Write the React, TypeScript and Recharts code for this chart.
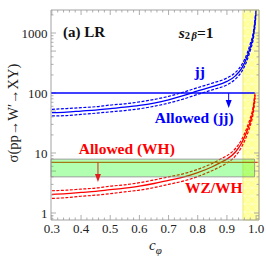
import React from 'react';
import { ComposedChart, Line, XAxis, YAxis, ReferenceArea, ReferenceLine, ReferenceDot } from 'recharts';

// WZ/jj cross-section curves (c_phi vs sigma)
const jjC = [0.30, 0.35, 0.40, 0.45, 0.50, 0.55, 0.60, 0.65, 0.70, 0.75, 0.80, 0.85, 0.90, 0.93, 0.95, 0.97, 0.98, 0.99, 0.995, 1.0];
const jjCentral = [47, 48, 50, 52, 55, 58, 62, 68, 77, 90, 108, 128, 156, 195, 255, 410, 580, 880, 1300, 2400];
const jjUpper = [53.5, 55, 57, 59, 63, 66, 71, 78, 88, 103, 123, 146, 178, 222, 291, 467, 661, 1000, 1480, 2700];
const jjLower = [41.5, 42, 44, 46, 48.5, 51, 54.5, 60, 68, 79, 95, 113, 137, 172, 224, 360, 510, 775, 1140, 2100];

const whC = [0.30, 0.35, 0.40, 0.45, 0.50, 0.55, 0.60, 0.65, 0.70, 0.75, 0.80, 0.85, 0.88, 0.90, 0.93, 0.95, 0.97, 0.98, 0.99, 0.995, 0.997];
const whCentral = [2.05, 2.1, 2.2, 2.3, 2.45, 2.6, 2.8, 3.1, 3.5, 3.95, 4.7, 5.9, 7.0, 7.9, 10.5, 14.5, 24, 33, 52, 80, 92];
const whUpper = [2.35, 2.4, 2.5, 2.6, 2.8, 2.95, 3.2, 3.55, 4.0, 4.5, 5.35, 6.7, 8.0, 9.0, 12, 16.5, 27.5, 38, 59, 89, 100];
const whLower = [1.75, 1.8, 1.9, 1.98, 2.1, 2.25, 2.4, 2.65, 3.0, 3.4, 4.05, 5.1, 6.0, 6.8, 9.0, 12.5, 20.5, 28.5, 45, 68, 82];

// limits
const jjLimit = 100;
const whLimit = 7.0;
const whBandLow = 4.0;
const whBandHigh = 7.9;
const yellowStart = 0.955;
const jjArrow = { c: 0.906, tip: 56 };
const whArrow = { c: 0.458, tip: 3.3 };

const xTicks = [0.3, 0.4, 0.5, 0.6, 0.7, 0.8, 0.9, 1.0];
const yTicks = [1, 5, 10, 50, 100, 500, 1000];

const X_MIN = 0.297, X_MAX = 1.01, Y_MIN = 0.764, Y_MAX = 2418;
const PX_X = 292; // px per unit c
const PX_DEC = 60; // px per decade

const jjData = jjC.map((c, i) => ({ c, mid: jjCentral[i], up: jjUpper[i], lo: jjLower[i] }));
const whData = whC.map((c, i) => ({ c, mid: whCentral[i], up: whUpper[i], lo: whLower[i] }));

const FONT = "'Liberation Serif', 'Times New Roman', serif";
const FRAME = '#999999';
const BLUE = '#0000ff';
const RED = '#ff0000';

const yMinorVals: number[] = [];
[0.1, 1, 10, 100, 1000].forEach(d => {
  for (let k = 1; k <= 9; k++) {
    const v = +(k * d).toPrecision(3);
    if (v > Y_MIN && v < Y_MAX) yMinorVals.push(v);
  }
});
const xMinorVals: number[] = [];
for (let i = 0; i <= 35; i++) xMinorVals.push(+(0.3 + 0.02 * i).toFixed(2));

const isMajorY = (v: number) => yTicks.includes(v);
const isMajorX = (v: number) => Math.abs(v * 10 - Math.round(v * 10)) < 1e-6;

const textShape = (content: React.ReactNode, color: string, size = 15.5, anchor: 'middle' | 'start' = 'middle') => (p: any) => (
  <text x={p.cx} y={p.cy} textAnchor={anchor} dominantBaseline="central" fill={color}
    style={{ fontFamily: FONT }} fontWeight="bold" fontSize={size}>{content}</text>
);

const arrowHead = (color: string) => (p: any) => (
  <polygon points={`${p.cx - 3},${p.cy - 8} ${p.cx + 3},${p.cy - 8} ${p.cx},${p.cy}`} fill={color} />
);

const HatchDefs = () => (
  <defs>
    <pattern id="yhatch" patternUnits="userSpaceOnUse" width="8" height="8">
      <rect x="0" y="0" width="8" height="8" fill="#ffff94" />
      <path d="M0,0 L8,8 M8,0 L0,8 M0,4 L8,4" stroke="#ffffd8" strokeWidth="0.7" fill="none" />
    </pattern>
  </defs>
);

const YLabel = () => (
  <text x={13} y={113} transform="rotate(-90 13 113)" textAnchor="middle" dominantBaseline="central"
    style={{ fontFamily: FONT }} fontSize={14.5} fill="#222">σ(pp→W′→XY)</text>
);
const XLabel = () => (
  <text x={149} y={250} style={{ fontFamily: FONT }} fontSize={15} fill="#222">
    <tspan fontStyle="italic">c</tspan>
    <tspan fontSize={11} dy={4} fontStyle="italic">φ</tspan>
  </text>
);

export default function App() {
  const tickEls: React.ReactNode[] = [];
  yMinorVals.forEach((v, i) => {
    const len = (isMajorY(v) ? 5 : 2.5) / PX_X;
    tickEls.push(<ReferenceLine key={`yl${i}`} segment={[{ x: X_MIN, y: v }, { x: X_MIN + len, y: v }]} stroke={FRAME} strokeWidth={0.8} />);
    tickEls.push(<ReferenceLine key={`yr${i}`} segment={[{ x: X_MAX - len, y: v }, { x: X_MAX, y: v }]} stroke={FRAME} strokeWidth={0.8} />);
  });
  xMinorVals.forEach((v, i) => {
    const f = Math.pow(10, (isMajorX(v) ? 5 : 2.5) / PX_DEC);
    tickEls.push(<ReferenceLine key={`xb${i}`} segment={[{ x: v, y: Y_MIN }, { x: v, y: Y_MIN * f }]} stroke={FRAME} strokeWidth={0.8} />);
    tickEls.push(<ReferenceLine key={`xt${i}`} segment={[{ x: v, y: Y_MAX / f }, { x: v, y: Y_MAX }]} stroke={FRAME} strokeWidth={0.8} />);
  });

  const tickStyle = { fontSize: 13, fill: '#222', style: { fontFamily: FONT } };

  return (
    <div style={{ position: 'absolute', left: 0, top: 0, background: '#fff', fontFamily: FONT }}>
      <ComposedChart width={266} height={266} margin={{ top: 10, right: 7, bottom: 0, left: 0 }} style={{ fontFamily: FONT }}>
        <XAxis dataKey="c" type="number" domain={[X_MIN, X_MAX]} allowDataOverflow ticks={xTicks}
          height={46} tickSize={0} tickMargin={4} axisLine={false} tickLine={false}
          tickFormatter={(v: number) => v.toFixed(1)}
          tick={tickStyle} label={{ content: XLabel }} />
        <YAxis type="number" scale="log" domain={[Y_MIN, Y_MAX]} allowDataOverflow ticks={yTicks}
          width={51} tickSize={0} tickMargin={3.5} axisLine={false} tickLine={false}
          tick={tickStyle} label={{ content: YLabel }} />

        <ReferenceDot x={0.5} y={10} r={0} shape={() => <HatchDefs />} zIndex={-100} />
        <ReferenceArea x1={yellowStart} x2={X_MAX} y1={Y_MIN} y2={Y_MAX} fill="url(#yhatch)" fillOpacity={1}
          stroke="#e4e470" strokeWidth={0.8} zIndex={-50} />

        <Line data={whData} dataKey="up" type="monotone" stroke={RED} strokeWidth={1.2} strokeDasharray="3 1.5" dot={false} isAnimationActive={false} />
        <Line data={whData} dataKey="mid" type="monotone" stroke={RED} strokeWidth={1.3} dot={false} isAnimationActive={false} />
        <Line data={whData} dataKey="lo" type="monotone" stroke={RED} strokeWidth={1.2} strokeDasharray="3 1.5" dot={false} isAnimationActive={false} />
        <ReferenceLine segment={[{ x: X_MIN, y: whLimit }, { x: 1.005, y: whLimit }]} stroke="#e8401c" strokeWidth={1.2} zIndex={450} />

        <ReferenceArea x1={X_MIN} x2={0.995} y1={whBandLow} y2={whBandHigh} fill="#00ff00" fillOpacity={0.3}
          stroke="#888888" strokeWidth={0.8} zIndex={500} />

        <ReferenceLine segment={[{ x: whArrow.c, y: whLimit }, { x: whArrow.c, y: whArrow.tip * 1.3 }]} stroke="#e02020" strokeWidth={1} zIndex={600} />
        <ReferenceDot x={whArrow.c} y={whArrow.tip} r={0} shape={arrowHead('#e02020')} zIndex={600} />

        <Line data={jjData} dataKey="up" type="monotone" stroke={BLUE} strokeWidth={1.2} strokeDasharray="3 1.5" dot={false} isAnimationActive={false} />
        <Line data={jjData} dataKey="mid" type="monotone" stroke={BLUE} strokeWidth={1.3} dot={false} isAnimationActive={false} />
        <Line data={jjData} dataKey="lo" type="monotone" stroke={BLUE} strokeWidth={1.2} strokeDasharray="3 1.5" dot={false} isAnimationActive={false} />
        <ReferenceLine segment={[{ x: X_MIN, y: jjLimit }, { x: 0.995, y: jjLimit }]} stroke={BLUE} strokeWidth={1.3} zIndex={600} />
        <ReferenceLine segment={[{ x: jjArrow.c, y: jjLimit }, { x: jjArrow.c, y: jjArrow.tip * 1.3 }]} stroke={BLUE} strokeWidth={1} zIndex={600} />
        <ReferenceDot x={jjArrow.c} y={jjArrow.tip} r={0} shape={arrowHead(BLUE)} zIndex={600} />

        {tickEls}
        <ReferenceArea x1={X_MIN} x2={X_MAX} y1={Y_MIN} y2={Y_MAX} fill="none" stroke={FRAME} strokeWidth={0.9} zIndex={700} />

        <ReferenceDot x={0.41} y={1040} r={0} shape={textShape('(a) LR', '#111', 15)} zIndex={800} />
        <ReferenceDot x={0.735} y={1040} r={0} zIndex={800} shape={(p: any) => (
          <text x={p.cx} y={p.cy} dominantBaseline="central" fill="#111" style={{ fontFamily: FONT }} fontWeight="bold" fontSize={15.5}>
            <tspan fontStyle="italic">s</tspan>
            <tspan fontSize={10.5} dy={3}>2</tspan>
            <tspan fontSize={10.5} fontStyle="italic" dx={1.5}>β</tspan>
            <tspan dy={-3}>=1</tspan>
          </text>
        )} />
        <ReferenceDot x={0.807} y={224} r={0} shape={textShape('jj', BLUE)} zIndex={800} />
        <ReferenceDot x={0.788} y={39} r={0} shape={textShape('Allowed (jj)', BLUE)} zIndex={800} />
        <ReferenceDot x={0.557} y={11.7} r={0} shape={textShape('Allowed (WH)', RED)} zIndex={800} />
        <ReferenceDot x={0.855} y={2.71} r={0} shape={textShape('WZ/WH', RED)} zIndex={800} />
      </ComposedChart>
    </div>
  );
}
